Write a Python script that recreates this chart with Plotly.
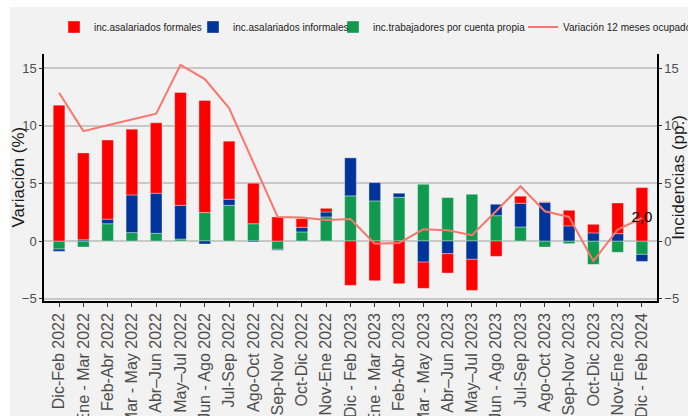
import plotly.graph_objects as go

categories = ["Dic-Feb 2022", "Ene - Mar 2022", "Feb-Abr 2022", "Mar - May 2022", "Abr–Jun 2022",
              "May–Jul 2022", "Jun - Ago 2022", "Jul-Sep 2022", "Ago-Oct 2022", "Sep-Nov 2022",
              "Oct-Dic 2022", "Nov-Ene 2022", "Dic - Feb 2023", "Ene - Mar 2023", "Feb-Abr 2023",
              "Mar - May 2023", "Abr–Jun 2023", "May–Jul 2023", "Jun - Ago 2023", "Jul-Sep 2023",
              "Ago-Oct 2023", "Sep-Nov 2023", "Oct-Dic 2023", "Nov-Ene 2023", "Dic - Feb 2024"]

formales = [11.8, 7.55, 6.87, 5.71, 6.11, 9.8, 9.73, 5.04, 3.52, 2.09, 0.75, 0.32, -3.85,
            -3.45, -3.71, -2.28, -1.68, -2.7, -1.33, 0.61, 0.05, 1.36, 0.75, 2.66, 4.64]
informales = [-0.2, 0.1, 0.4, 3.27, 3.48, 2.93, -0.26, 0.53, -0.08, -0.08, 0.4, 0.43, 3.3,
              1.59, 0.35, -1.83, -1.1, -1.59, 0.99, 2.06, 3.36, 1.31, 0.7, 0.64, -0.61]
cuenta_propia = [-0.7, -0.52, 1.5, 0.73, 0.67, 0.17, 2.47, 3.1, 1.5, -0.72, 0.79, 2.09, 3.92,
                 3.48, 3.8, 4.93, 3.77, 4.06, 2.2, 1.22, -0.52, -0.23, -2.03, -0.98, -1.16]
variacion = [12.87, 9.54, 10.05, 10.55, 11.05, 15.3, 14.06, 11.54, 6.8, 2.09, 2.05, 1.83, 1.91,
             -0.23, -0.17, 1.02, 0.93, 0.5, 2.6, 4.76, 2.58, 2.09, -1.74, 0.99, 2.0]
y_ticks = [-5, 0, 5, 10, 15]

SANS = "Liberation Sans, Arial, sans-serif"

line_labels = [""] * (len(variacion) - 1) + [f"{variacion[-1]:.1f}".replace(".", ",")]

W, H = 688, 416
ml, mr, mt, mb = 44, 31, 54, 115
pw, ph = W - ml - mr, H - mt - mb


def px_x(p):
    return (p - ml) / pw


def px_y(p):
    return (H - mb - p) / ph


fig = go.Figure()
bar_line = dict(color="rgba(255,255,255,0.35)", width=1)
fig.add_trace(go.Bar(x=categories, y=cuenta_propia, name="inc.trabajadores por cuenta propia",
                     marker=dict(color="#0f9a4f", line=bar_line), legend="legend3"))
fig.add_trace(go.Bar(x=categories, y=informales, name="inc.asalariados informales",
                     marker=dict(color="#00349b", line=bar_line), legend="legend2"))
fig.add_trace(go.Bar(x=categories, y=formales, name="inc.asalariados formales",
                     marker=dict(color="#ff0000", line=bar_line), legend="legend"))
fig.add_trace(go.Scatter(x=categories, y=variacion, name="Variación 12 meses ocupados",
                         mode="lines+text", text=line_labels, textposition="middle center",
                         textfont=dict(family=SANS, size=15, color="#000000"),
                         line=dict(color="#f8766d", width=2), yaxis="y2", legend="legend4"))

yrange = [-5.21, 16.24]
tickfont = dict(family=SANS, size=13, color="#4d4d4d")
legfont = dict(family=SANS, size=10, color="#222222")


def leg(text_start):
    return dict(orientation="h", x=px_x(text_start - 40), xanchor="left", y=px_y(27),
                yanchor="middle", font=legfont, bgcolor="rgba(0,0,0,0)", itemwidth=30)


fig.update_layout(
    width=W, height=H,
    showlegend=True,
    margin=dict(l=ml, r=mr, t=mt, b=mb, autoexpand=False),
    paper_bgcolor="#f2f2f2", plot_bgcolor="#f2f2f2",
    barmode="relative", bargap=0.52,
    xaxis=dict(type="category", range=[-0.62, 24.62], tickangle=-90,
               tickfont=dict(family=SANS, size=16, color="#4d4d4d"),
               ticks="outside", ticklen=4, tickcolor="#333333", showgrid=False,
               showline=True, linecolor="#000000", linewidth=1.5),
    yaxis=dict(side="right", range=yrange, tickvals=y_ticks, ticks="outside", ticklen=3,
               tickcolor="#333333", tickfont=tickfont, showgrid=True, gridcolor="#c8c8c8",
               gridwidth=1.5, zeroline=False, showline=True, linecolor="#000000", linewidth=1.5,
               title=dict(text="Incidencias (pp.)", font=dict(family=SANS, size=17, color="#1a1a1a"),
                          standoff=0)),
    yaxis2=dict(overlaying="y", side="left", matches="y", range=yrange, tickvals=y_ticks,
                ticks="outside", ticklen=3, tickcolor="#333333", tickfont=tickfont,
                showgrid=False, zeroline=False, showline=True, linecolor="#000000", linewidth=1.5),
    annotations=[
        dict(text="Variación (%)", textangle=-90, xref="paper", yref="paper",
             x=px_x(18), y=0.5, xanchor="center", yanchor="middle", showarrow=False,
             font=dict(family=SANS, size=17, color="#1a1a1a")),
    ],
    legend=leg(94),
    legend2=leg(233),
    legend3=leg(373),
    legend4=leg(563),
    shapes=[
        dict(type="rect", xref="paper", yref="paper", x0=px_x(-20), x1=px_x(10), y0=px_y(H + 20),
             y1=px_y(-20), fillcolor="#ffffff", line=dict(width=0), layer="below"),
        dict(type="rect", xref="paper", yref="paper", x0=px_x(-20), x1=px_x(W + 20), y0=px_y(7),
             y1=px_y(-20), fillcolor="#ffffff", line=dict(width=0), layer="below"),
    ],
)

fig.write_html("out.html", config={"displayModeBar": False},
               post_script="document.body.style.margin='0px';")
